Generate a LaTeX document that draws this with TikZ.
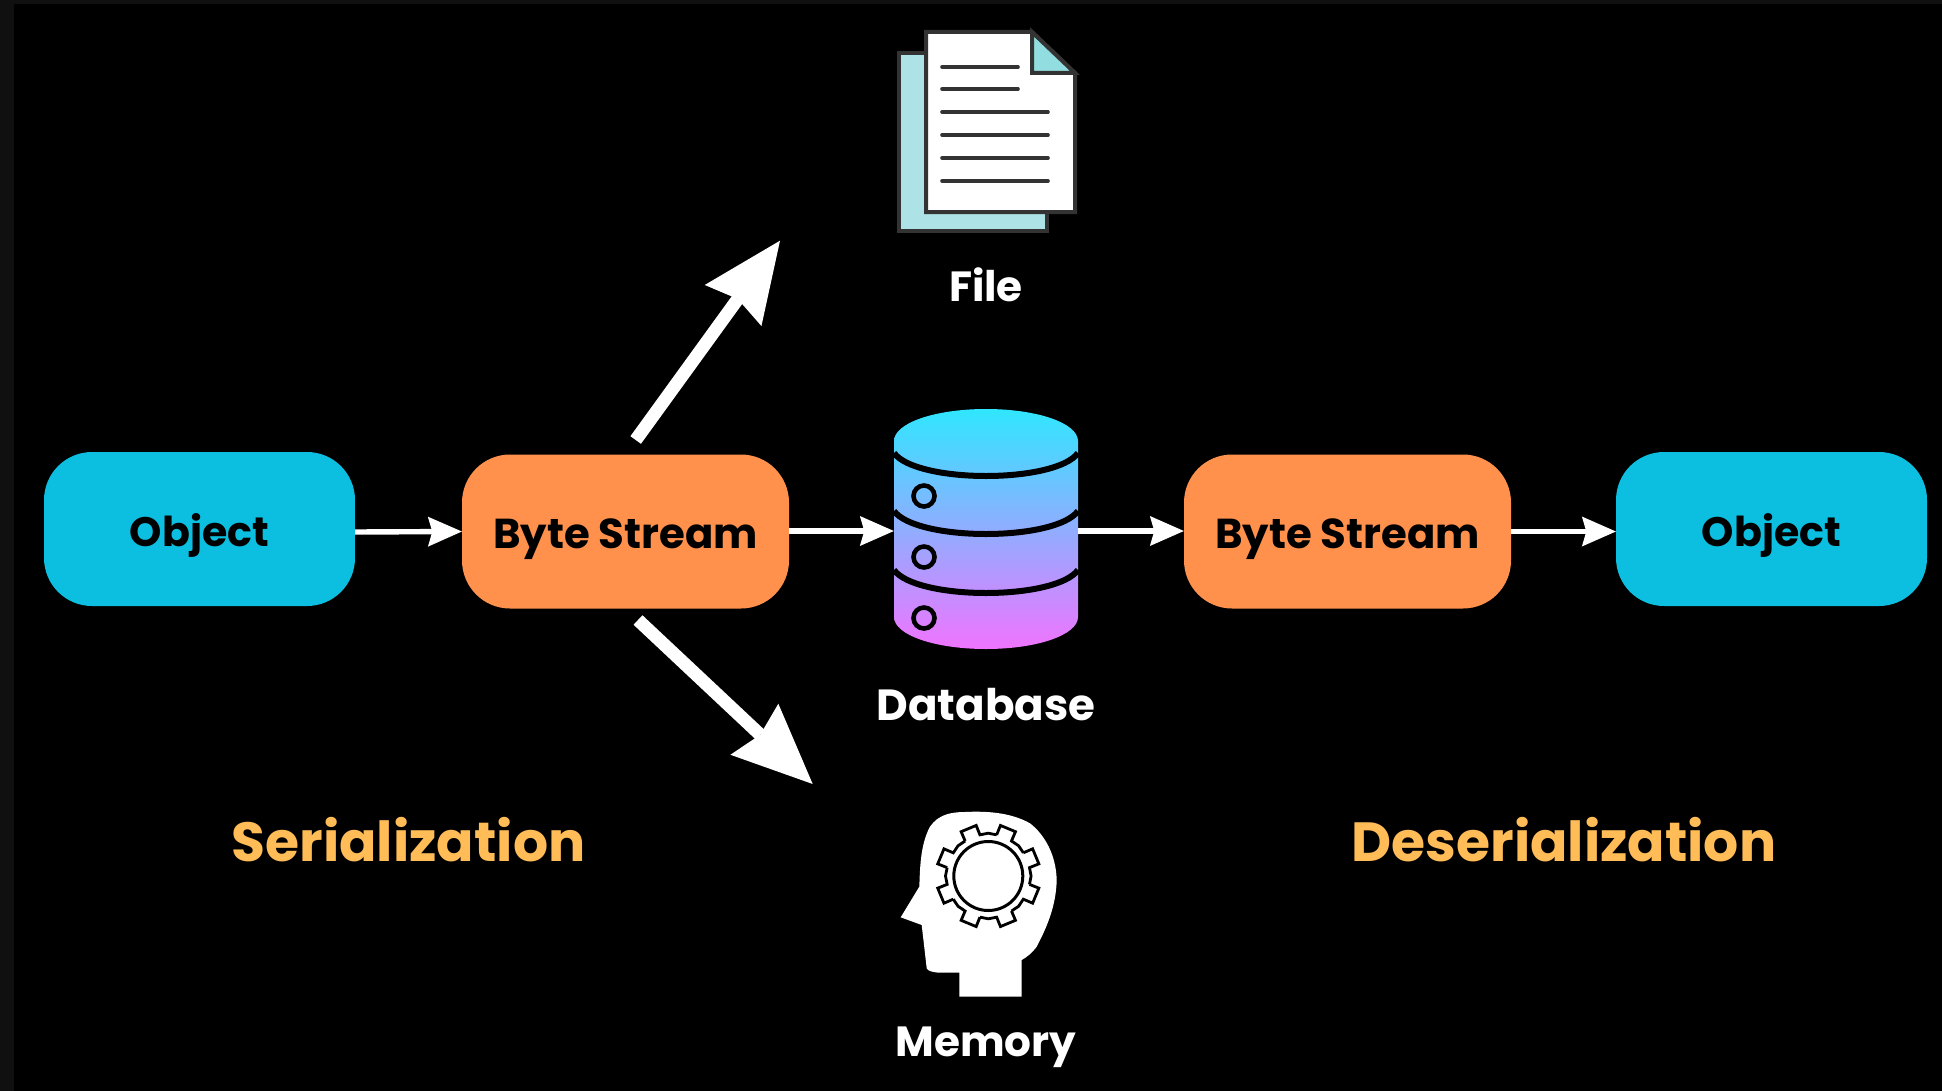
\documentclass[tikz,border=0pt]{standalone}
\usepackage{fontspec}
\setmainfont{Poppins}
\usetikzlibrary{arrows.meta}
\definecolor{boxcyan}{HTML}{0CBFE0}
\definecolor{boxorange}{HTML}{FF914D}
\definecolor{labelgold}{HTML}{FFBC57}
\definecolor{iconline}{HTML}{333333}
\definecolor{sheetback}{HTML}{ADE3E6}
\definecolor{sheetfold}{HTML}{92DDE0}
\definecolor{frameedge}{HTML}{101010}
\definecolor{dbtop}{HTML}{30E6FF}
\definecolor{dbmid}{HTML}{A0A0FF}
\definecolor{dbbot}{HTML}{F074FF}
\tikzset{
  objbox/.style={fill=boxcyan,rounded corners=2.4cm,minimum width=15.55cm,minimum height=7.7cm,inner sep=0pt,text=black,text height=1.77cm,text depth=0pt,font=\bfseries\fontsize{58.5}{60}\selectfont},
  bytebox/.style={fill=boxorange,rounded corners=2.4cm,minimum width=16.35cm,minimum height=7.7cm,inner sep=0pt,text=black,text height=1.68cm,text depth=0pt,font=\bfseries\fontsize{59.5}{61}\selectfont},
  smallarrow/.style={draw=white,line width=.27cm,-{Stealth[length=1.7cm,width=1.5cm,inset=.22cm,line width=0pt]}},
  bigarrow/.style={draw=white,line width=.65cm,-{Stealth[length=4cm,width=3.5cm,inset=.4cm,line width=0pt]}},
  iconlabel/.style={text=white,inner sep=0pt,anchor=base,font=\bfseries\fontsize{60}{62}\selectfont},
  phaselabel/.style={text=labelgold,inner sep=0pt,anchor=base,font=\bfseries\fontsize{78.5}{80}\selectfont},
  hole/.style={inner sep=0pt,minimum width=0pt},
  sheet/.style={draw=iconline,line width=.2cm,line join=miter},
  textline/.style={draw=iconline,line width=.18cm,line cap=round},
  dbband/.style={draw=black,line width=.3cm},
  gearline/.style={draw=black,line width=.14cm,line join=miter},
}
\begin{document}
\begin{tikzpicture}[x=0.05cm,y=-0.05cm]
\useasboundingbox (0,0) rectangle (1942,1091);
\fill[black] (0,0) rectangle (1942,1091);
\fill[frameedge] (0,0) rectangle (14,1091);
\fill[frameedge] (0,0) rectangle (1942,4);

% boxes
\node[objbox] (obj1) at (199.5,529) {Object};
\node[bytebox] (bs1) at (625.5,531.5) {Byte Stream};
\node[bytebox] (bs2) at (1347.5,531.5) {Byte Stream};
\node[objbox] (obj2) at (1771.5,529) {Object};

% file icon
\draw[sheet,fill=sheetback] (899,53) rectangle (1047,231);
\draw[sheet,fill=white] (926,32) -- (1032,32) -- (1075,73) -- (1075,212) -- (926,212) -- cycle;
\draw[sheet,fill=sheetfold] (1032,32) -- (1075,73) -- (1032,73) -- cycle;
\draw[textline] (942,67) -- (1018,67);
\draw[textline] (942,89) -- (1018,89);
\draw[textline] (942,112) -- (1048,112);
\draw[textline] (942,135) -- (1048,135);
\draw[textline] (942,158) -- (1048,158);
\draw[textline] (942,181) -- (1048,181);
\node[iconlabel] (file) at (986,301.7) {File};

% database icon
\node[hole,minimum width=9.2cm,minimum height=12cm] (db) at (986,531) {};
\shade[top color=dbtop,middle color=dbmid,bottom color=dbbot]
  (894,441) .. controls (894,423) and (935,409) .. (986,409)
  .. controls (1037,409) and (1078,423) .. (1078,441)
  -- (1078,617) .. controls (1078,635) and (1037,649) .. (986,649)
  .. controls (935,649) and (894,635) .. (894,617) -- cycle;
\draw[dbband] (894,453) .. controls (905,468) and (945,476) .. (986,476) .. controls (1027,476) and (1067,468) .. (1078,453);
\draw[dbband] (894,511) .. controls (905,526) and (945,534) .. (986,534) .. controls (1027,534) and (1067,526) .. (1078,511);
\draw[dbband] (894,570) .. controls (905,585) and (945,593) .. (986,593) .. controls (1027,593) and (1067,585) .. (1078,570);
\draw[black,line width=.23cm] (924,496) circle[radius=10.5];
\draw[black,line width=.23cm] (924,557) circle[radius=10.5];
\draw[black,line width=.23cm] (924,618) circle[radius=10.5];
\node[iconlabel,font=\bfseries\fontsize{62}{64}\selectfont] (dblabel) at (986,720) {Database};

% memory icon
\fill[white] (959.3,996.7) -- (959.3,972.7) -- (938.3,972.7)
  .. controls (932,972) and (928,971) .. (926.7,968.3)
  -- (921.7,925) -- (900.7,917.3) -- (919.3,886.7)
  .. controls (920,870) and (920,845) .. (930,826.7)
  .. controls (938,815) and (950,812) .. (965,812)
  .. controls (985,811) and (1010,812) .. (1030,823.3)
  .. controls (1045,835) and (1056,855) .. (1056.7,880)
  .. controls (1056,905) and (1048,925) .. (1036.7,946.7)
  .. controls (1032,953) and (1027,957) .. (1021.7,960)
  -- (1021.7,996.7) -- cycle;
\begin{scope}[shift={(988.3,876)}]
  \draw[black,line width=.15cm] (0,0) circle[radius=34.5];
  \foreach \a in {22.5,67.5,...,337.5}{
    \draw[gearline] (\a-11:42) -- (\a-9:52) -- (\a+9:52) -- (\a+11:42) -- (\a+22.5:42.8) -- (\a+34:42);
  }
\end{scope}
\node[iconlabel] (memory) at (986,1056.7) {Memory};

% phase labels
\node[phaselabel] (ser) at (408.5,861.7) {Serialization};
\node[phaselabel] (des) at (1564,861.7) {Deserialization};

% connectors
\coordinate (uptail) at (635.7,440);
\coordinate (uptip) at (780,240.7);
\coordinate (downtail) at (638,620);
\coordinate (downtip) at (812.7,784);
\draw[smallarrow] ([yshift=-.15cm]obj1.east) -- (bs1.west);
\draw[smallarrow] (bs1.east |- db.west) -- (db.west);
\draw[smallarrow] (db.east) -- (db.east -| bs2.west);
\draw[smallarrow] (bs2.east) -- (bs2.east -| obj2.west);
\draw[bigarrow] (uptail) -- (uptip);
\draw[bigarrow] (downtail) -- (downtip);
\end{tikzpicture}
\end{document}
